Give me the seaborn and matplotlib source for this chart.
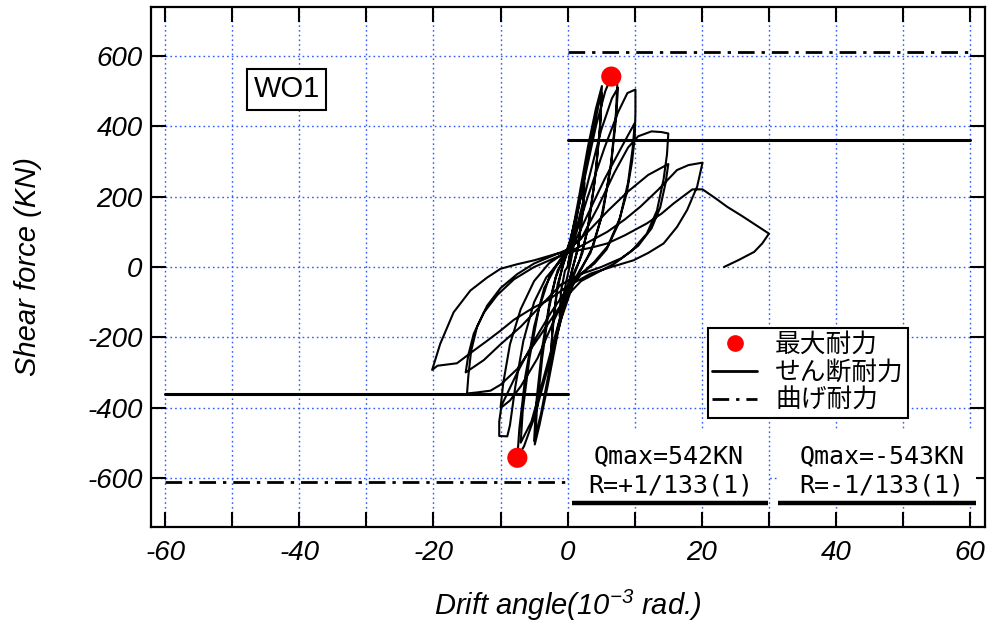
import numpy as np
import pandas as pd
import matplotlib
matplotlib.use("Agg")
import matplotlib.pyplot as plt
from matplotlib.lines import Line2D
from matplotlib.patches import Rectangle
import seaborn as sns

# ---------------- data ----------------
drift_c12 = [0.0, 0.6, 1.2, 1.0, 0.4, -0.2, -1.2, -1.0, -0.4, 0.0]
force_c12 = [0, 60, 130, 70, 10, -40, -140, -70, -10, 0]
drift_c25a = [1.0, 2.5, 2.3, 1.6, 0.8, 0.0, -1.2, -2.5, -2.3, -1.6, -0.8, 0.0]
force_c25a = [110, 260, 180, 60, 0, -60, -160, -270, -190, -70, 0, 50]
drift_c25b = [1.2, 2.5, 2.3, 1.5, 0.7, -0.2, -1.3, -2.5, -2.2, -1.5, -0.6]
force_c25b = [140, 240, 160, 50, -5, -70, -170, -250, -160, -50, 10]

drift_c5a = [0.3, 1.6, 3.0, 4.2, 5.1, 4.9, 4.2, 3.2, 2.2, 1.2, 0.0, -1.5, -3.0, -4.2, -4.9, -4.6, -3.8, -2.8, -1.8, -0.7]
force_c5a = [60, 190, 340, 450, 515, 420, 270, 130, 40, -10, -70, -190, -340, -450, -505, -410, -260, -120, -30, 20]
drift_c5b = [0.5, 2.0, 3.5, 4.6, 5.1, 4.8, 4.0, 2.9, 1.8, 0.6, -1.0, -2.6, -4.0, -5.0, -4.7, -3.8, -2.6, -1.5, -0.3]
force_c5b = [80, 210, 360, 460, 495, 390, 240, 100, 20, -30, -130, -280, -420, -495, -390, -230, -90, -10, 30]

drift_c75a = [1.0, 2.5, 4.2, 5.6, 6.5, 7.4, 7.2, 6.5, 5.3, 3.8, 2.2, 0.8, -1.0, -3.0, -5.0, -6.5, -7.5, -7.2, -6.3, -5.0, -3.5, -1.8, -0.3]
force_c75a = [110, 250, 400, 500, 542, 520, 440, 300, 160, 60, 0, -50, -150, -290, -430, -510, -543, -460, -310, -170, -60, 0, 40]
drift_c75b = [1.2, 3.0, 5.0, 6.6, 7.5, 7.2, 6.4, 5.0, 3.4, 1.8, 0.3, -1.5, -3.5, -5.4, -7.0, -6.7, -5.7, -4.3, -2.6, -0.8]
force_c75b = [100, 240, 390, 480, 510, 420, 280, 140, 40, -10, -60, -170, -310, -440, -500, -410, -260, -120, -20, 30]

drift_c10a = [1.0, 3.0, 5.5, 7.5, 8.9, 10.1, 10.1, 10.0, 9.6, 8.8, 7.5, 5.8, 4.0, 2.0, 0.0, -2.0, -4.5, -7.0, -8.6, -9.9, -10.2, -10.2, -9.0, -8.6, -7.8, -6.6, -5.0, -3.2, -1.2]
force_c10a = [80, 200, 340, 440, 495, 505, 440, 370, 300, 210, 120, 50, 10, -20, -70, -150, -260, -340, -380, -400, -440, -481, -482, -450, -340, -210, -100, -30, 15]
drift_c10b = [0.8, 3.0, 5.5, 8.0, 10.0, 9.7, 9.0, 7.8, 6.0, 4.0, 2.0, 0.0, -2.5, -5.0, -7.5, -10.0, -9.6, -8.6, -7.0, -5.0, -2.8, -0.5]
force_c10b = [60, 150, 250, 340, 410, 340, 240, 140, 60, 15, -20, -60, -130, -210, -300, -400, -330, -220, -120, -40, 10, 40]

drift_c15a = [2.0, 4.5, 7.0, 9.0, 10.5, 12.5, 14.0, 15.0, 14.8, 14.3, 13.3, 11.8, 9.5, 7.0, 4.5, 2.0, 0.0, -2.5, -5.0, -7.5, -10.0, -11.5, -13.5, -15.0, -14.8, -14.4, -13.5, -12.0, -10.0, -7.5, -5.0, -2.5]
force_c15a = [80, 170, 270, 340, 372, 386, 384, 380, 320, 250, 160, 95, 45, 10, -15, -40, -80, -150, -220, -290, -335, -352, -357, -360, -310, -240, -170, -110, -60, -20, 10, 30]
drift_c15b = [0.0, 3.0, 6.0, 9.0, 12.0, 15.0, 14.6, 13.8, 12.5, 10.5, 8.0, 5.0, 2.0, -1.0, -4.0, -7.0, -10.0, -12.5, -15.2, -14.8, -14.0, -12.5, -10.5, -8.0, -5.0, -2.0]
force_c15b = [50, 100, 160, 215, 262, 293, 240, 170, 110, 60, 25, 0, -20, -50, -110, -170, -220, -265, -300, -250, -190, -130, -80, -35, 0, 25]

drift_c20a = [0.0, 3.0, 5.9, 8.5, 10.8, 13.5, 16.3, 18.0, 20.1, 19.3, 17.8, 16.3, 14.3, 12.0, 9.8, 6.5, 3.4, 0.0, -3.0, -5.3, -8.0, -10.0, -12.0, -14.0, -16.5, -19.4, -20.2, -19.0, -17.0, -14.5, -12.0, -10.0, -7.5, -5.0, -1.6]
force_c20a = [40, 70, 100, 135, 171, 220, 276, 290, 297, 229, 162, 114, 67, 40, 19, 0, -19, -55, -95, -118, -150, -181, -210, -238, -274, -281, -293, -219, -129, -67, -30, -5, 8, 19, 38]
drift_final = [1.0, 3.5, 5.9, 8.5, 11.8, 14.0, 15.8, 18.6, 20.1, 22.0, 23.8, 26.0, 28.0, 30.0, 29.0, 27.8, 25.5, 23.3]
force_final = [45, 55, 67, 90, 124, 152, 181, 221, 221, 196, 171, 145, 120, 95, 67, 43, 20, 0]

# maximum strength points
qmax_drift = [6.5, -7.5]
qmax_force = [542, -543]

# capacity lines
shear_drift_pos = [0, 60]
shear_force_pos = [362, 362]
shear_drift_neg = [-60, 0]
shear_force_neg = [-362, -362]
flex_drift_pos = [0, 60]
flex_force_pos = [612, 612]
flex_drift_neg = [-60, 0]
flex_force_neg = [-612, -612]

x_ticks = [-60, -40, -20, 0, 20, 40, 60]
y_ticks = [-600, -400, -200, 0, 200, 400, 600]

drift_all = (drift_c12 + drift_c25a + drift_c25b + drift_c5a + drift_c5b + drift_c75a + drift_c75b +
             drift_c10a + drift_c10b + drift_c15a + drift_c15b + drift_c20a + drift_final)
force_all = (force_c12 + force_c25a + force_c25b + force_c5a + force_c5b + force_c75a + force_c75b +
             force_c10a + force_c10b + force_c15a + force_c15b + force_c20a + force_final)
df = pd.DataFrame({"drift": drift_all, "force": force_all})
df_max = pd.DataFrame({"drift": qmax_drift, "force": qmax_force})

# ---------------- style ----------------
sns.set_style("white")
plt.rcParams["font.family"] = ["Liberation Sans", "Noto Sans CJK JP", "DejaVu Sans"]
plt.rcParams["axes.unicode_minus"] = False
plt.rcParams["mathtext.fontset"] = "custom"
plt.rcParams["mathtext.rm"] = "Liberation Sans:italic"
plt.rcParams["mathtext.it"] = "Liberation Sans:italic"
for key in ["text.color", "axes.labelcolor", "xtick.color", "ytick.color"]:
    plt.rcParams[key] = "black"

fig = plt.figure(figsize=(9.92, 6.26), dpi=100)
ax = fig.add_axes([151 / 992, 1 - 527 / 626, 834 / 992, 520 / 626])

ax.set_xlim(-62.1, 62.2)
ax.set_ylim(-740, 740)

# grid
grid_kw = dict(color="#2f5bff", lw=1.0, ls=(0, (1.2, 2.2)), zorder=0)
for gx in range(-60, 61, 10):
    ax.axvline(gx, **grid_kw)
for gy in range(-600, 601, 200):
    ax.axhline(gy, **grid_kw)

# capacity lines
ax.plot(shear_drift_pos, shear_force_pos, color="black", lw=2.2, zorder=2)
ax.plot(shear_drift_neg, shear_force_neg, color="black", lw=2.2, zorder=2)
dd = (0, (6, 2.5, 1.2, 2.5))
ax.plot(flex_drift_pos, flex_force_pos, color="black", lw=2.0, ls=dd, zorder=2)
ax.plot(flex_drift_neg, flex_force_neg, color="black", lw=2.0, ls=dd, zorder=2)

# hysteresis
sns.lineplot(data=df, x="drift", y="force", sort=False, estimator=None,
             color="black", lw=1.5, ax=ax, zorder=3)
sns.scatterplot(data=df_max, x="drift", y="force", color="red", s=210,
                edgecolor="none", ax=ax, zorder=5)

# ticks
ax.set_xticks(range(-60, 61, 10))
ax.set_xticklabels([str(v) if v in x_ticks else "" for v in range(-60, 61, 10)])
ax.set_yticks(y_ticks)
ax.set_yticklabels([str(v) for v in y_ticks])
ax.tick_params(axis="both", direction="in", length=11, width=1.5, colors="black",
               top=True, right=True, bottom=True, left=True, labelsize=20)
ax.tick_params(axis="x", pad=9)
ax.tick_params(axis="y", pad=6)
for lab in ax.get_xticklabels() + ax.get_yticklabels():
    lab.set_fontstyle("italic")
for sp in ax.spines.values():
    sp.set_linewidth(1.6)
    sp.set_color("black")

ax.set_xlabel(r"Drift angle(10$^{-3}$ rad.)", fontsize=21, fontstyle="italic", color="black")
ax.set_ylabel("Shear force (KN)", fontsize=21, fontstyle="italic", color="black")
ax.xaxis.set_label_coords(0.4994, -0.117)
ax.yaxis.set_label_coords(-0.131, 0.50)

# specimen label
ax.text(-41.9, 506, "WO1", fontsize=21, ha="center", va="center", zorder=6, color="black",
        bbox=dict(boxstyle="square,pad=0.22", fc="white", ec="black", lw=1.5))

# result annotations
for x0, x1 in [(0.7, 29.9), (31.4, 60.8)]:
    ax.add_patch(Rectangle((x0, -672), x1 - x0, 212, fc="white", ec="none", zorder=4))
    ax.plot([x0, x1], [-672, -672], color="black", lw=3.2, zorder=5, solid_capstyle="butt")
mono = dict(family="DejaVu Sans Mono", fontsize=18, ha="center", va="center", zorder=6, color="black")
ax.text(15.0, -538, "Qmax=542KN", **mono)
ax.text(15.3, -621, "R=+1/133(1)", **mono)
ax.text(46.9, -538, "Qmax=-543KN", **mono)
ax.text(46.8, -621, "R=-1/133(1)", **mono)

# legend
handles = [
    Line2D([], [], marker="o", color="red", ls="none", markersize=11),
    Line2D([], [], color="black", lw=2.0),
    Line2D([], [], color="black", lw=2.0, ls=dd),
]
labels = ["最大耐力", "せん断耐力", "曲げ耐力"]
leg = ax.legend(handles, labels, loc="upper left", bbox_to_anchor=(0.668, 0.383),
                borderaxespad=0, frameon=True, fancybox=False, framealpha=1,
                edgecolor="black", handlelength=1.75, handletextpad=0.7,
                borderpad=0.16, labelspacing=0.08,
                prop={"family": ["Noto Sans CJK JP"], "size": 18.5})
leg.get_frame().set_linewidth(1.5)
leg.set_zorder(7)
for t in leg.get_texts():
    t.set_color("black")

fig.savefig("out.png", dpi=100)
